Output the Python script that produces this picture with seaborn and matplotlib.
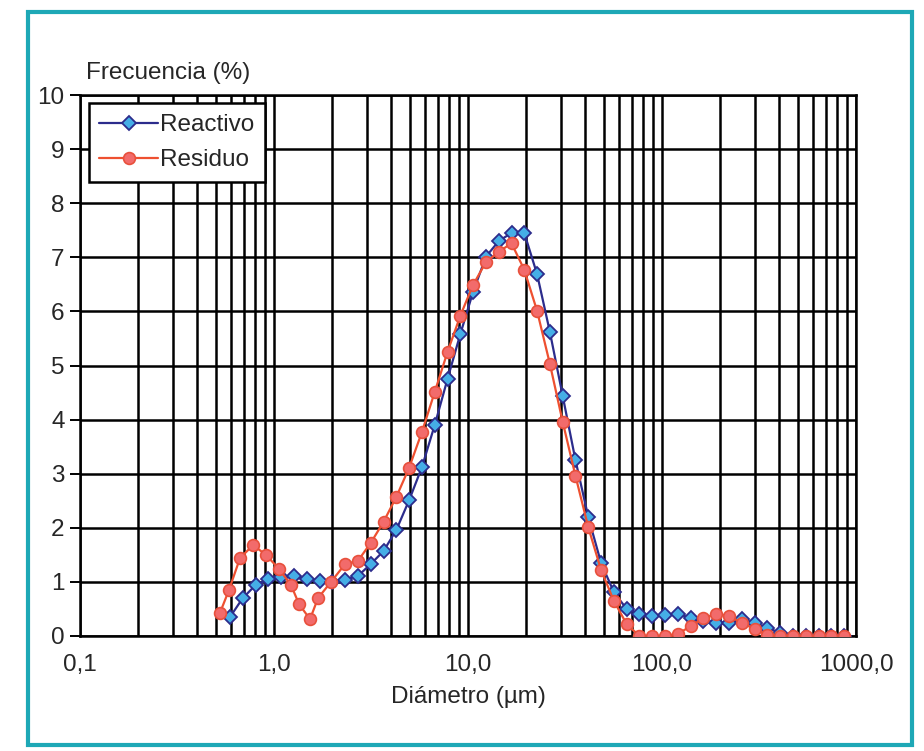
import numpy as np
import pandas as pd
import matplotlib
matplotlib.use("Agg")
import matplotlib.pyplot as plt
from matplotlib.ticker import LogLocator, FixedLocator, FixedFormatter, NullFormatter
from matplotlib.patches import Rectangle
import seaborn as sns

# ---- data ----
reactivo_d = [0.593, 0.690, 0.803, 0.935, 1.089, 1.267, 1.475, 1.717, 1.999, 2.327,
              2.708, 3.153, 3.670, 4.271, 4.972, 5.787, 6.737, 7.841, 9.127, 10.62,
              12.37, 14.40, 16.76, 19.50, 22.70, 26.43, 30.76, 35.81, 41.68, 48.52,
              56.47, 65.73, 76.52, 89.06, 103.7, 120.7, 140.5, 163.5, 190.3, 221.6,
              257.9, 300.2, 349.4, 406.7, 473.4, 551.1, 641.5, 746.7, 869.2]
reactivo_f = [0.35, 0.70, 0.94, 1.05, 1.09, 1.11, 1.05, 1.02, 1.00, 1.04,
              1.11, 1.33, 1.57, 1.96, 2.51, 3.12, 3.90, 4.75, 5.58, 6.36,
              7.01, 7.30, 7.45, 7.45, 6.69, 5.62, 4.44, 3.25, 2.20, 1.35,
              0.81, 0.50, 0.41, 0.37, 0.39, 0.41, 0.33, 0.28, 0.24, 0.24,
              0.31, 0.24, 0.15, 0.06, 0.0, 0.0, 0.0, 0.0, 0.0]

residuo_d = [0.527, 0.586, 0.668, 0.780, 0.909, 1.061, 1.224, 1.346, 1.533, 1.686,
             1.967, 2.327, 2.708, 3.153, 3.670, 4.271, 4.972, 5.787, 6.737, 7.841,
             9.127, 10.62, 12.37, 14.40, 16.76, 19.50, 22.70, 26.43, 30.76, 35.81,
             41.68, 48.52, 56.47, 65.73, 76.52, 89.06, 103.7, 120.7, 140.5, 163.5,
             190.3, 221.6, 257.9, 300.2, 349.4, 406.7, 473.4, 551.1, 641.5, 746.7,
             869.2]
residuo_f = [0.43, 0.85, 1.44, 1.68, 1.50, 1.24, 0.94, 0.59, 0.31, 0.70,
             1.00, 1.33, 1.39, 1.72, 2.11, 2.57, 3.11, 3.77, 4.51, 5.25,
             5.92, 6.49, 6.91, 7.10, 7.26, 6.77, 6.01, 5.03, 3.96, 2.96,
             2.01, 1.22, 0.65, 0.22, 0.0, 0.0, 0.0, 0.04, 0.18, 0.33,
             0.41, 0.37, 0.24, 0.13, 0.02, 0.0, 0.0, 0.0, 0.0, 0.0,
             0.0]

x_ticks = [0.1, 1.0, 10.0, 100.0, 1000.0]
x_tick_labels = ["0,1", "1,0", "10,0", "100,0", "1000,0"]
y_ticks = list(range(0, 11))

df_r = pd.DataFrame({"d": reactivo_d, "f": reactivo_f})
df_s = pd.DataFrame({"d": residuo_d, "f": residuo_f})

sns.set_theme(style="white")
plt.rcParams["font.family"] = ["Liberation Sans", "DejaVu Sans"]

FS = 17.5

fig = plt.figure(figsize=(9.24, 7.51), dpi=100)
ax = fig.add_axes([80 / 924, 1 - 636 / 751, (856 - 80) / 924, (636 - 95) / 751])

ax.set_xscale("log")
ax.set_xlim(0.1, 1000)
ax.set_ylim(0, 10)

# grid
ax.xaxis.set_major_locator(FixedLocator(x_ticks))
ax.xaxis.set_major_formatter(FixedFormatter(x_tick_labels))
ax.xaxis.set_minor_locator(LogLocator(base=10, subs=np.arange(2, 10)))
ax.xaxis.set_minor_formatter(NullFormatter())
ax.set_yticks(y_ticks)
ax.grid(True, which="major", axis="both", color="black", lw=1.8, zorder=1)
ax.grid(True, which="minor", axis="x", color="black", lw=1.8, zorder=1)
ax.set_axisbelow(True)

sns.lineplot(data=df_r, x="d", y="f", ax=ax, color="#2c2c8c", lw=1.6,
             marker="D", markersize=7, markerfacecolor="#45aee6",
             markeredgecolor="#2c2c8c", markeredgewidth=1.3,
             label="Reactivo", sort=False, zorder=3)
sns.lineplot(data=df_s, x="d", y="f", ax=ax, color="#ee5030", lw=1.6,
             marker="o", markersize=8.5, markerfacecolor="#f26b6b",
             markeredgecolor="#e8503c", markeredgewidth=1.2,
             label="Residuo", sort=False, zorder=4)

for s in ax.spines.values():
    s.set_color("black")
    s.set_linewidth(1.8)

ax.tick_params(axis="y", which="major", direction="out", length=7, width=1.4,
               color="black", labelsize=FS, pad=4, left=True)
ax.tick_params(axis="x", which="both", length=0, labelsize=FS, pad=13)
ax.set_xlabel("Diámetro (µm)", fontsize=FS, labelpad=7)
ax.set_ylabel("")

leg = ax.legend(loc="upper left", bbox_to_anchor=(0.011, 0.985), borderaxespad=0,
                fontsize=FS, frameon=True, fancybox=False, framealpha=1,
                edgecolor="black", handlelength=2.4, handletextpad=0.1,
                labelspacing=0.55, borderpad=0.45)
leg.get_frame().set_linewidth(1.8)

fig.text(86 / 924, 1 - 73 / 751, "Frecuencia (%)", fontsize=FS, ha="left", va="center")

fig.patches.append(Rectangle((28 / 924, 6 / 751), (912 - 28) / 924, (745 - 12) / 751,
                             transform=fig.transFigure, fill=False,
                             edgecolor="#1ea8b6", lw=3))

fig.savefig("out.png", dpi=100)
